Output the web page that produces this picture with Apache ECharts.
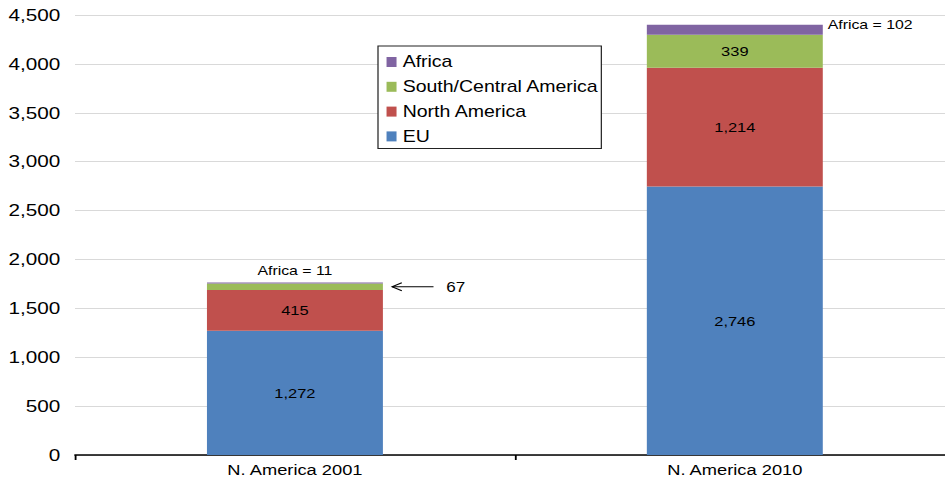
<!DOCTYPE html>
<html>
<head>
<meta charset="utf-8">
<script src="https://cdn.jsdelivr.net/npm/echarts@6/dist/echarts.min.js"></script>
<style>
  html, body { margin: 0; padding: 0; background: #fff; overflow: hidden; }
  /* chart is laid out narrower and widened horizontally, giving the wide type of the original workbook chart;
     the plot runs a little past the right edge of the page */
  #chart { width: 783px; height: 485px; transform: scaleX(1.219355); transform-origin: 0 0; }
</style>
</head>
<body>
<div id="chart"></div>
<script>
const categories = ['N. America 2001', 'N. America 2010'];
const euValues = [1272, 2746];
const northAmericaValues = [415, 1214];
const southCentralValues = [67, 339];
const africaValues = [11, 102];
const yTicks = { min: 0, max: 4500, step: 500 };

const FONT = "'Liberation Sans', Arial, sans-serif";
const BAR_WIDTH = 144.3;
const fmt = v => Number(v).toLocaleString('en-US');

const insideLabel = {
  show: true,
  position: 'inside',
  color: '#000',
  fontFamily: FONT,
  fontSize: 13.5,
  formatter: p => fmt(p.value)
};

const chart = echarts.init(document.getElementById('chart'), null, { renderer: 'svg' });

chart.setOption({
  animation: false,
  backgroundColor: '#fff',
  textStyle: { fontFamily: FONT },
  grid: { left: 61.5, right: 0, top: 15, bottom: 30 },
  legend: {
    orient: 'vertical',
    left: 310,
    top: 46,
    data: ['Africa', 'South/Central America', 'North America', 'EU'],
    icon: 'rect',
    itemWidth: 8.2,
    itemHeight: 10,
    itemGap: 8.8,
    padding: [8, 2, 4, 7],
    borderColor: '#222',
    borderWidth: 1,
    backgroundColor: '#fff',
    textStyle: { fontFamily: FONT, fontSize: 16, color: '#000', lineHeight: 16 }
  },
  xAxis: {
    type: 'category',
    data: categories,
    axisLine: { lineStyle: { color: '#000', width: 1.5 } },
    axisTick: { show: true, length: 5, lineStyle: { color: '#000', width: 1.5 } },
    axisLabel: { color: '#000', fontFamily: FONT, fontSize: 15, margin: 8 },
    splitLine: { show: false }
  },
  yAxis: {
    type: 'value',
    min: yTicks.min,
    max: yTicks.max,
    interval: yTicks.step,
    axisLine: { show: false },
    axisTick: { show: false },
    axisLabel: { color: '#000', fontFamily: FONT, fontSize: 17, margin: 12, formatter: v => fmt(v) },
    splitLine: { lineStyle: { color: '#d9d9d9', width: 1 } }
  },
  series: [
    {
      name: 'EU', type: 'bar', stack: 'total', barWidth: BAR_WIDTH,
      itemStyle: { color: '#4F81BD' },
      label: insideLabel,
      data: euValues
    },
    {
      name: 'North America', type: 'bar', stack: 'total', barWidth: BAR_WIDTH,
      itemStyle: { color: '#C0504D' },
      label: insideLabel,
      data: northAmericaValues
    },
    {
      name: 'South/Central America', type: 'bar', stack: 'total', barWidth: BAR_WIDTH,
      itemStyle: { color: '#9BBB59' },
      label: insideLabel,
      data: southCentralValues.map((v, i) => i === 0
        ? { value: v, label: { position: 'right', distance: 52, fontSize: 14 } }
        : v)
    },
    {
      name: 'Africa', type: 'bar', stack: 'total', barWidth: BAR_WIDTH,
      itemStyle: { color: '#8064A2' },
      label: {
        show: true, color: '#000', fontFamily: FONT, fontSize: 13,
        formatter: p => 'Africa = ' + fmt(p.value)
      },
      data: africaValues.map((v, i) => i === 0
        ? { value: v, label: { position: 'top', distance: 5 } }
        : { value: v, label: { position: 'right', distance: 4, offset: [0, -5] } })
    }
  ]
});

// Arrow pointing at the thin South/Central America slice of the first bar
function drawArrow() {
  const mid = euValues[0] + northAmericaValues[0] + southCentralValues[0] / 2;
  const p = chart.convertToPixel({ xAxisIndex: 0, yAxisIndex: 0 }, [0, mid]);
  const tipX = p[0] + BAR_WIDTH / 2 + 7.5;
  const tailX = tipX + 34;
  const y = p[1];
  chart.setOption({
    graphic: [
      {
        type: 'line', silent: true,
        shape: { x1: tipX, y1: y, x2: tailX, y2: y },
        style: { stroke: '#000', lineWidth: 1 }
      },
      {
        type: 'polyline', silent: true,
        shape: { points: [[tipX + 8, y - 4], [tipX, y], [tipX + 8, y + 4]] },
        style: { stroke: '#000', lineWidth: 1, fill: null }
      }
    ]
  });
}
drawArrow();
</script>
</body>
</html>
